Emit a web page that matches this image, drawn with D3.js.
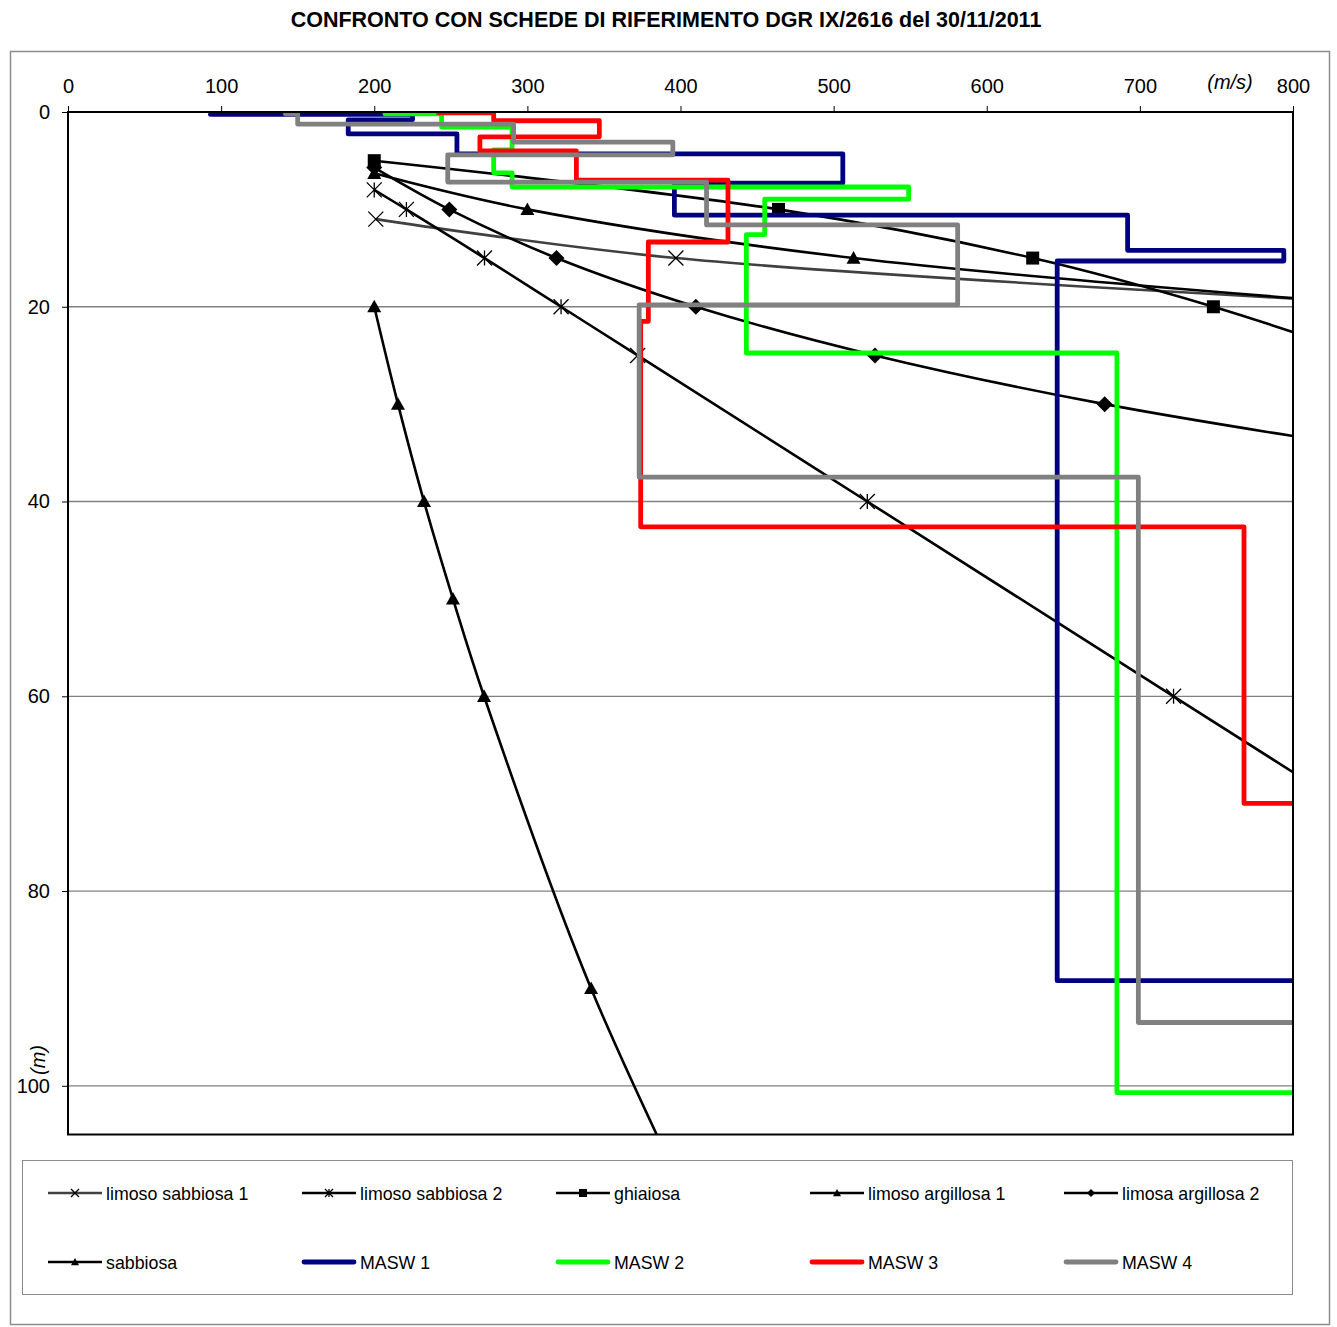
<!DOCTYPE html>
<html><head><meta charset="utf-8">
<script src="https://cdn.jsdelivr.net/npm/d3@7"></script>
<style>
body{margin:0;background:#fff;}
text{font-family:"Liberation Sans",Arial,Helvetica,sans-serif;fill:#000;}
</style>
</head><body>
<svg id="chart" width="1337" height="1327"></svg>
<script>
// ---------- DATA ----------
const chartTitle = "CONFRONTO CON SCHEDE DI RIFERIMENTO DGR IX/2616 del 30/11/2011";
const xTickValues = [0, 100, 200, 300, 400, 500, 600, 700, 800];
const yTickValues = [0, 20, 40, 60, 80, 100];
const xUnit = "(m/s)";
const yUnit = "(m)";

// reference curves (velocity m/s, depth m)
const limSab1V = [201, 397, 900];
const limSab1D = [11, 15, 20];
const limSab2V = [200, 221, 272, 322, 372, 522, 722, 922];
const limSab2D = [8, 10, 15, 20, 25, 40, 60, 80];
const ghiaiosaV = [200, 464, 630, 748, 845];
const ghiaiosaD = [5, 10, 15, 20, 25];
const limArg1V = [200, 300, 513, 872];
const limArg1D = [6.3, 10, 15, 20];
const limArg2V = [200, 249, 319, 410, 527, 677, 870];
const limArg2D = [5.7, 10, 15, 20, 25, 30, 35];
const sabbiosaV = [200, 215.5, 232.5, 251.4, 271.7, 341.6, 430];
const sabbiosaD = [20, 30, 40, 50, 60, 90, 120];

// MASW step profiles
const masw1V = [93, 225, 225, 183, 183, 254, 254, 506, 506, 396, 396, 692, 692, 794, 794, 646, 646, 800];
const masw1D = [0.25, 0.25, 0.8, 0.8, 2.25, 2.25, 4.3, 4.3, 7.3, 7.3, 10.6, 10.6, 14.2, 14.2, 15.3, 15.3, 89.2, 89.2];
const masw2V = [207, 244, 244, 290, 290, 278, 278, 290, 290, 549, 549, 455, 455, 443, 443, 685, 685, 800];
const masw2D = [0.2, 0.2, 1.55, 1.55, 3.9, 3.9, 6.25, 6.25, 7.7, 7.7, 8.95, 8.95, 12.6, 12.6, 24.75, 24.75, 100.7, 100.7];
const masw3V = [242, 278, 278, 347, 347, 269, 269, 332, 332, 431, 431, 379, 379, 374, 374, 768, 768, 800];
const masw3D = [0.1, 0.1, 0.9, 0.9, 2.55, 2.55, 4.0, 4.0, 7.0, 7.0, 13.35, 13.35, 21.5, 21.5, 42.6, 42.6, 71.0, 71.0];
const masw4V = [142, 150, 150, 291, 291, 395, 395, 248, 248, 417, 417, 581, 581, 373, 373, 699, 699, 800];
const masw4D = [0.2, 0.2, 1.25, 1.25, 3.1, 3.1, 4.4, 4.4, 7.2, 7.2, 11.6, 11.6, 19.8, 19.8, 37.5, 37.5, 93.5, 93.5];

const seriesNames = ["limoso sabbiosa 1", "limoso sabbiosa 2", "ghiaiosa", "limoso argillosa 1", "limosa argillosa 2",
                     "sabbiosa", "MASW 1", "MASW 2", "MASW 3", "MASW 4"];

// ---------- BUILD ----------
const refSeries = [
  {name: seriesNames[0], v: limSab1V, d: limSab1D, color: "#404040", marker: "x"},
  {name: seriesNames[1], v: limSab2V, d: limSab2D, color: "#000", marker: "star"},
  {name: seriesNames[2], v: ghiaiosaV, d: ghiaiosaD, color: "#000", marker: "square"},
  {name: seriesNames[3], v: limArg1V, d: limArg1D, color: "#000", marker: "triangle"},
  {name: seriesNames[4], v: limArg2V, d: limArg2D, color: "#000", marker: "diamond"},
  {name: seriesNames[5], v: sabbiosaV, d: sabbiosaD, color: "#000", marker: "triangle"}
];
const maswSeries = [
  {name: seriesNames[6], v: masw1V, d: masw1D, color: "#000080"},
  {name: seriesNames[7], v: masw2V, d: masw2D, color: "#00FF00"},
  {name: seriesNames[8], v: masw3V, d: masw3D, color: "#FF0000"},
  {name: seriesNames[9], v: masw4V, d: masw4D, color: "#808080"}
];

const svg = d3.select("#chart");
const L = 68, R = 1293, T = 112, B = 1134.5;
const x = d3.scaleLinear().domain([0, 800]).range([L, R]);
const y = d3.scaleLinear().domain([0, 105]).range([T, B]);

// outer frame
svg.append("rect").attr("x", 10.5).attr("y", 51.5).attr("width", 1319).attr("height", 1273)
  .attr("fill", "none").attr("stroke", "#8c8c8c").attr("stroke-width", 1.5);

// title
svg.append("text").attr("x", 666).attr("y", 27).attr("text-anchor", "middle")
  .attr("font-size", 21.5).attr("font-weight", "bold").text(chartTitle);

// gridlines
svg.append("g").selectAll("line").data(yTickValues.filter(t => t > 0)).join("line")
  .attr("x1", L).attr("x2", R).attr("y1", d => y(d)).attr("y2", d => y(d))
  .attr("stroke", "#808080").attr("stroke-width", 1.3);

// axes
const xAxis = svg.append("g").attr("transform", `translate(0,${T})`)
  .call(d3.axisTop(x).tickValues(xTickValues).tickSize(6).tickPadding(13).tickFormat(d3.format("d")));
const yAxis = svg.append("g").attr("transform", `translate(${L},0)`)
  .call(d3.axisLeft(y).tickValues(yTickValues).tickSize(6).tickPadding(12).tickFormat(d3.format("d")));
[xAxis, yAxis].forEach(g => {
  g.select(".domain").remove();
  g.selectAll(".tick line").attr("stroke", "#000").attr("stroke-width", 1);
  g.selectAll(".tick text").attr("font-size", 20).attr("font-family", "Liberation Sans, Arial, sans-serif").attr("fill", "#000");
});

// axis unit labels
svg.append("text").attr("x", 1230).attr("y", 89).attr("text-anchor", "middle")
  .attr("font-size", 20).attr("font-style", "italic").text(xUnit);
svg.append("text").attr("transform", "translate(45,1060) rotate(-90)").attr("text-anchor", "middle")
  .attr("font-size", 20).attr("font-style", "italic").text(yUnit);

// clip
svg.append("clipPath").attr("id", "plotclip").append("rect")
  .attr("x", L).attr("y", T).attr("width", R - L).attr("height", B - T);
const plot = svg.append("g").attr("clip-path", "url(#plotclip)");

// marker drawing
function drawMarker(g, type, cx, cy, s) {
  const h = s / 2;
  if (type === "x") {
    g.append("path").attr("d", `M${cx-h},${cy-h}L${cx+h},${cy+h}M${cx-h},${cy+h}L${cx+h},${cy-h}`)
      .attr("stroke", "#000").attr("stroke-width", 1.3).attr("fill", "none");
  } else if (type === "star") {
    g.append("path").attr("d", `M${cx-h},${cy-h}L${cx+h},${cy+h}M${cx-h},${cy+h}L${cx+h},${cy-h}M${cx},${cy-h}L${cx},${cy+h}`)
      .attr("stroke", "#000").attr("stroke-width", 1.3).attr("fill", "none");
  } else if (type === "square") {
    g.append("rect").attr("x", cx - h).attr("y", cy - h).attr("width", s).attr("height", s).attr("fill", "#000");
  } else if (type === "triangle") {
    g.append("path").attr("d", `M${cx},${cy-h}L${cx+h},${cy+h*0.8}L${cx-h},${cy+h*0.8}Z`).attr("fill", "#000");
  } else if (type === "diamond") {
    g.append("path").attr("d", `M${cx},${cy-h}L${cx+h},${cy}L${cx},${cy+h}L${cx-h},${cy}Z`).attr("fill", "#000");
  }
}
const markerSize = {x: 15, star: 15, square: 13, triangle: 14, diamond: 16};

const smoothLine = d3.line().x(p => x(p[0])).y(p => y(p[1])).curve(d3.curveCatmullRom.alpha(0.5));
const stepLine = d3.line().x(p => x(p[0])).y(p => y(p[1]));

refSeries.forEach(s => {
  const pts = d3.zip(s.v, s.d);
  const g = plot.append("g");
  g.append("path").attr("d", smoothLine(pts)).attr("fill", "none")
    .attr("stroke", s.color).attr("stroke-width", 2.6);
  pts.forEach(p => drawMarker(g, s.marker, x(p[0]), y(p[1]), markerSize[s.marker]));
});

maswSeries.forEach(s => {
  const pts = d3.zip(s.v, s.d);
  plot.append("path").attr("d", stepLine(pts)).attr("fill", "none")
    .attr("stroke", s.color).attr("stroke-width", 4.8)
    .attr("stroke-linejoin", "round").attr("stroke-linecap", "round");
});

// plot frame
svg.append("rect").attr("x", L).attr("y", T).attr("width", R - L).attr("height", B - T)
  .attr("fill", "none").attr("stroke", "#000").attr("stroke-width", 2);

// legend
svg.append("rect").attr("x", 22.5).attr("y", 1160.5).attr("width", 1270).attr("height", 134)
  .attr("fill", "none").attr("stroke", "#8c8c8c").attr("stroke-width", 1);
const legendItems = refSeries.map(s => ({...s, kind: "ref"})).concat(maswSeries.map(s => ({...s, kind: "masw"})));
const colX = [48, 302, 556, 810, 1064];
const rowY = [1193, 1262];
legendItems.forEach((s, i) => {
  const cx0 = colX[i % 5], cy0 = rowY[Math.floor(i / 5)];
  const g = svg.append("g");
  if (s.kind === "ref") {
    g.append("line").attr("x1", cx0).attr("x2", cx0 + 54).attr("y1", cy0).attr("y2", cy0)
      .attr("stroke", s.color).attr("stroke-width", 2.6);
    drawMarker(g, s.marker, cx0 + 27, cy0, 8);
  } else {
    g.append("line").attr("x1", cx0 + 2).attr("x2", cx0 + 52).attr("y1", cy0).attr("y2", cy0)
      .attr("stroke", s.color).attr("stroke-width", 4.8).attr("stroke-linecap", "round");
  }
  g.append("text").attr("x", cx0 + 58).attr("y", cy0 + 6.5).attr("font-size", 17.8).text(s.name);
});
</script>
</body></html>
